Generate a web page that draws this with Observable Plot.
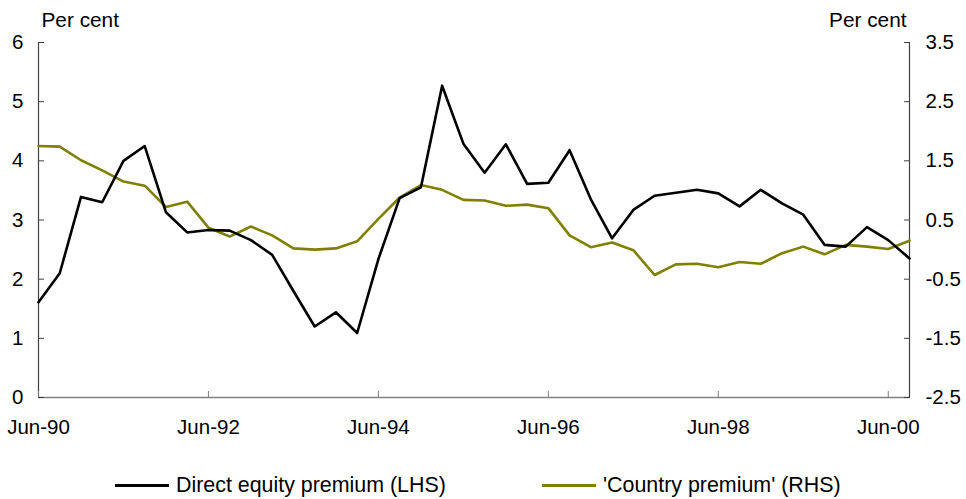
<!DOCTYPE html>
<html><head><meta charset="utf-8">
<script src="https://cdn.jsdelivr.net/npm/d3@7"></script>
<script src="https://cdn.jsdelivr.net/npm/@observablehq/plot@0.6"></script>
<style>
body{margin:0;background:#fff;font-family:"Liberation Sans",Arial,sans-serif;}
#wrap{position:relative;width:966px;height:499px;overflow:hidden;}
#wrap svg{position:absolute;left:0;top:0;}
.legend{position:absolute;top:473px;height:24px;display:flex;align-items:center;font-size:21.4px;color:#000;white-space:nowrap;}
.sw{width:54px;height:0;border-top:3px solid;margin-right:7px;}
</style></head><body><div id="wrap"></div>
<script>
const quarters = ["Jun-90","Sep-90","Dec-90","Mar-91","Jun-91","Sep-91","Dec-91","Mar-92","Jun-92","Sep-92","Dec-92","Mar-93","Jun-93","Sep-93","Dec-93","Mar-94","Jun-94","Sep-94","Dec-94","Mar-95","Jun-95","Sep-95","Dec-95","Mar-96","Jun-96","Sep-96","Dec-96","Mar-97","Jun-97","Sep-97","Dec-97","Mar-98","Jun-98","Sep-98","Dec-98","Mar-99","Jun-99","Sep-99","Dec-99","Mar-00","Jun-00","Sep-00"];
const equityPremium = [1.61,2.10,3.39,3.30,4.00,4.25,3.13,2.79,2.83,2.82,2.66,2.41,1.80,1.20,1.44,1.09,2.34,3.37,3.55,5.27,4.29,3.80,4.28,3.61,3.63,4.18,3.35,2.69,3.17,3.41,3.46,3.51,3.45,3.23,3.51,3.28,3.09,2.58,2.55,2.88,2.66,2.35];
const countryPremium = [1.75,1.74,1.51,1.34,1.15,1.08,0.72,0.81,0.37,0.22,0.39,0.24,0.02,0.00,0.02,0.14,0.52,0.88,1.09,1.01,0.84,0.83,0.74,0.76,0.70,0.24,0.04,0.12,-0.01,-0.43,-0.25,-0.24,-0.30,-0.21,-0.24,-0.06,0.05,-0.08,0.08,0.05,0.01,0.15];
const lhsTicks = [0,1,2,3,4,5,6];
const rhsTicks = [-2.5,-1.5,-0.5,0.5,1.5,2.5,3.5];
const xTicks = ["Jun-90","Jun-92","Jun-94","Jun-96","Jun-98","Jun-00"];
const seriesNames = ["Direct equity premium (LHS)","'Country premium' (RHS)"];
const seriesColors = ["#000000","#808000"];

const rhsShift = lhsTicks[0] - rhsTicks[0];
const data = quarters.map((q,i)=>({q, eq: equityPremium[i], cp: countryPremium[i]}));

const W = 966, H = 450, mL = 38, mR = 57, mT = 42, mB = 53;
const chart = Plot.plot({
  width: W, height: H,
  marginLeft: mL, marginRight: mR, marginTop: mT, marginBottom: mB,
  style: {fontFamily: "'Liberation Sans', Arial, sans-serif", fontSize: "20.5px", color: "#000", background: "#fff", overflow: "visible"},
  x: {type: "point", domain: quarters, padding: 0, round: false},
  y: {domain: [lhsTicks[0], lhsTicks[lhsTicks.length-1]]},
  marks: [
    Plot.ruleY([lhsTicks[0]], {stroke: "#808080", strokeWidth: 1.5}),
    Plot.ruleX([quarters[0]], {stroke: "#404040", strokeWidth: 1.2}),
    Plot.ruleX([quarters[quarters.length-1]], {stroke: "#404040", strokeWidth: 1.2}),
    Plot.axisX({ticks: xTicks, tickSize: -6, tickPadding: 28, tickFormat: d => d, stroke: "#808080", label: null}),
    Plot.axisY({anchor: "left", ticks: lhsTicks, tickSize: -6, tickPadding: 21, tickFormat: d => String(d), stroke: "#404040", label: null}),
    Plot.axisY({anchor: "right", ticks: lhsTicks, tickSize: -6, tickPadding: 22, tickFormat: d => (d - rhsShift).toFixed(1), stroke: "#404040", label: null}),
    Plot.line(data, {x: "q", y: d => d.cp + rhsShift, stroke: seriesColors[1], strokeWidth: 2.6}),
    Plot.line(data, {x: "q", y: "eq", stroke: seriesColors[0], strokeWidth: 2.6}),
    Plot.text(["Per cent"], {frameAnchor: "top-left", textAnchor: "start", lineAnchor: "bottom", dx: 3, dy: -16, fontSize: 20.8}),
    Plot.text(["Per cent"], {frameAnchor: "top-right", textAnchor: "end", lineAnchor: "bottom", dx: -3, dy: -16, fontSize: 20.8})
  ]
});
const wrap = document.getElementById("wrap");
wrap.appendChild(chart);
const lefts = [115, 542];
seriesNames.forEach((n,i)=>{
  const d = document.createElement("div");
  d.className = "legend";
  d.style.left = lefts[i] + "px";
  const s = document.createElement("span"); s.className = "sw"; s.style.borderTopColor = seriesColors[i];
  const t = document.createElement("span"); t.textContent = n;
  d.appendChild(s); d.appendChild(t);
  wrap.appendChild(d);
});
</script></body></html>
